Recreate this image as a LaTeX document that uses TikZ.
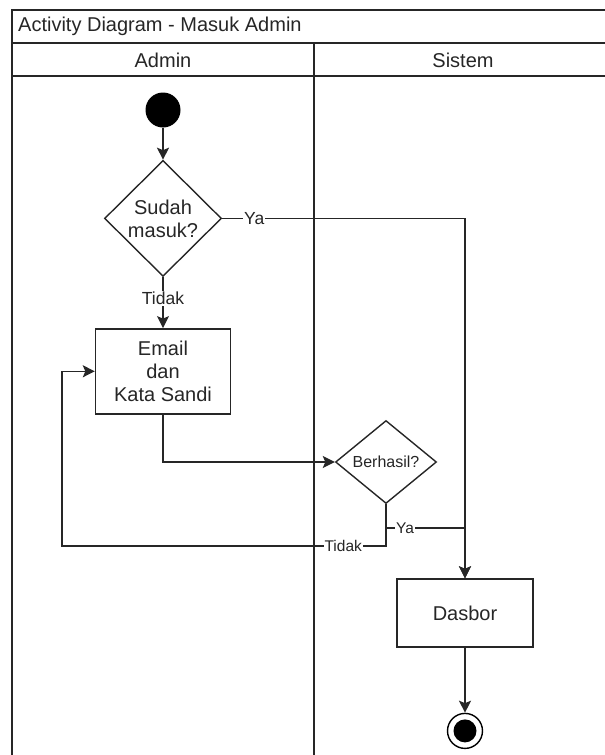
\documentclass[tikz,border=0pt]{standalone}
\usepackage{fontspec}
\setmainfont{Liberation Sans}
\usetikzlibrary{shapes.geometric, arrows.meta, positioning, calc}
\tikzstyle{lane}     = [line width=1.6pt, draw=black!85]
\tikzstyle{action}   = [rectangle, draw=black!85, line width=1.4pt, align=center,
                        inner sep=0pt, font=\fontsize{20}{23}\selectfont]
\tikzstyle{decision} = [diamond, draw=black!85, line width=1.4pt, inner sep=0pt]
\tikzstyle{initial}  = [circle, fill=black, minimum size=35pt, inner sep=0pt]
\tikzstyle{final}    = [circle, draw=black, line width=1.4pt, minimum size=35pt, inner sep=0pt,
                        path picture={\fill[black] (path picture bounding box.center) circle (11.5pt);}]
\tikzstyle{flow}     = [line width=1.4pt, draw=black!85, -{Stealth[length=12pt,width=12pt,inset=2.5pt]}]
\tikzstyle{guard}    = [fill=white, inner sep=0.8pt, font=\fontsize{17.5}{20}\selectfont]
\tikzstyle{smallguard} = [fill=white, inner sep=0.8pt, font=\fontsize{15.5}{18}\selectfont]

\begin{document}
\begin{tikzpicture}[x=1pt, y=-1pt, every node/.style={text=black!85},
                    font=\fontsize{20}{23}\selectfont]
  \useasboundingbox (0,0) rectangle (605,755);
  % swimlane frame
  \draw[lane] (12,755) |- (612,10);
  \draw[lane] (12,43) -- (612,43);
  \draw[lane] (12,76) -- (612,76);
  \draw[lane] (314,43) -- (314,755);
  \node (title)  [anchor=west, inner sep=0pt] at (18,26.5) {Activity Diagram - Masuk Admin};
  \node (admin)  at (163,60) {Admin};
  \node (sistem) at (463,60) {Sistem};

  \node (start)  [initial] at (163,110) {};
  \node (masuk)  [decision, minimum width=117pt, minimum height=116pt, below=32pt of start,
                  label={[align=center, text=black!85]center:{Sudah\\masuk?}}] {};
  \node (email)  [action, minimum width=135pt, minimum height=85pt, below=51pt of masuk] {Email\\dan\\Kata Sandi};
  \node (cek)    [decision, minimum width=101pt, minimum height=83pt,
                  label={[text=black!85, font=\fontsize{16}{18}\selectfont]center:Berhasil?}] at (386,462) {};
  \node (dasbor) [action, minimum width=136pt, minimum height=68pt] at (465,613) {Dasbor};
  \node (end)    [final, below=65pt of dasbor] {};
  \coordinate (yajoin) at (465,528);
  \coordinate (loop)   at (62,546);

  \draw[flow] (start) -- (masuk);
  \draw[flow] (masuk.east) -| node[guard, pos=0.066] {Ya} (dasbor.north);
  \draw[flow] (masuk.south) -- node[guard, pos=0.42] {Tidak} (email.north);
  \draw[flow] (email.south) |- (cek.west);
  \draw[flow] (cek.south) |- node[smallguard, pos=0.62] {Ya} (yajoin) -- (dasbor.north);
  \draw[flow] (cek.south) |- node[smallguard, pos=0.566] {Tidak} (loop) |- (email.west);
  \draw[flow] (dasbor) -- (end);
\end{tikzpicture}
\end{document}
